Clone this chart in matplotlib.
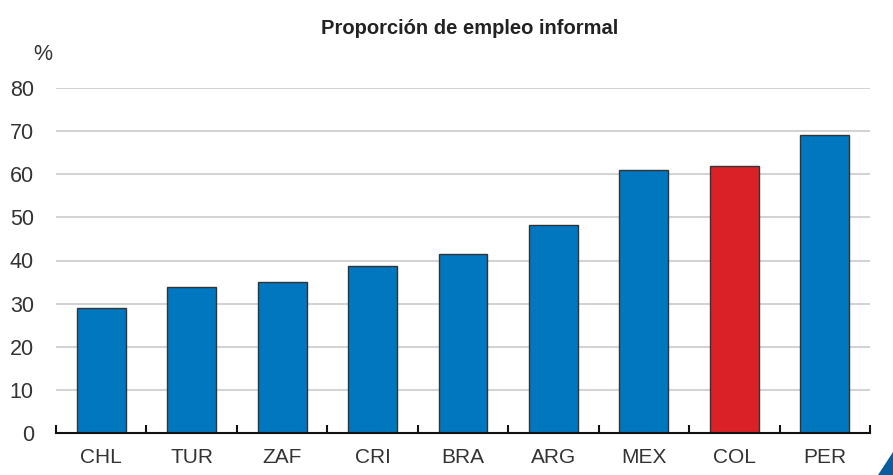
import matplotlib
matplotlib.use("Agg")
import matplotlib.pyplot as plt
from matplotlib.patches import Polygon

categories = ["CHL", "TUR", "ZAF", "CRI", "BRA", "ARG", "MEX", "COL", "PER"]
values = [29.1, 33.9, 35.0, 38.8, 41.5, 48.2, 61.0, 61.8, 69.1]
highlight = "COL"
yticks = [0, 10, 20, 30, 40, 50, 60, 70, 80]
title = "Proporción de empleo informal"

blue = "#0077BE"
red = "#DA2128"
colors = [red if c == highlight else blue for c in categories]

plt.rcParams['font.family'] = ['Liberation Sans', 'DejaVu Sans']

fig = plt.figure(figsize=(8.93, 4.75), dpi=100)
ax = fig.add_axes([56/893, 1-433/475, (870-56)/893, (433-88)/475])

x = list(range(len(categories)))
ax.bar(x, values, width=0.54, color=colors, edgecolor="#333333", linewidth=1.0, zorder=3)

ax.set_xlim(-0.5, len(categories) - 0.5)
ax.set_ylim(0, 80)
ax.set_yticks(yticks)
ax.set_yticklabels([str(v) for v in yticks])
ax.set_xticks(x)
ax.set_xticklabels(categories)
ax.set_xticks([i - 0.5 for i in range(len(categories) + 1)], minor=True)

for v in yticks[1:]:
    ax.axhline(v, color="#D3D3D3", linewidth=1.5, zorder=1)

for s in ["top", "right", "left"]:
    ax.spines[s].set_visible(False)
ax.spines["bottom"].set_color("#111111")
ax.spines["bottom"].set_linewidth(1.5)
ax.spines["bottom"].set_zorder(4)

ax.tick_params(axis="y", length=0, pad=16, labelsize=15.5, labelcolor="#333333")
ax.tick_params(axis="x", which="major", length=0, pad=11, labelsize=15, labelcolor="#333333")
ax.tick_params(axis="x", which="minor", direction="in", length=6, width=1.5, color="#111111")

fig.text(470/893, 1-28/475, title, ha="center", va="center", fontsize=14.5,
         fontweight="bold", color="#222222", family=['Liberation Sans Narrow', 'Liberation Sans', 'DejaVu Sans'])
fig.text(43/893, 1-54/475, "%", ha="center", va="center", fontsize=15.5, color="#333333")

tri = Polygon([(878/893, 0), (893/893, 0), (893/893, 1-452/475)], closed=True,
              transform=fig.transFigure, facecolor="#0A5E9E", edgecolor="none")
fig.patches.append(tri)

fig.savefig("out.png", dpi=100)
